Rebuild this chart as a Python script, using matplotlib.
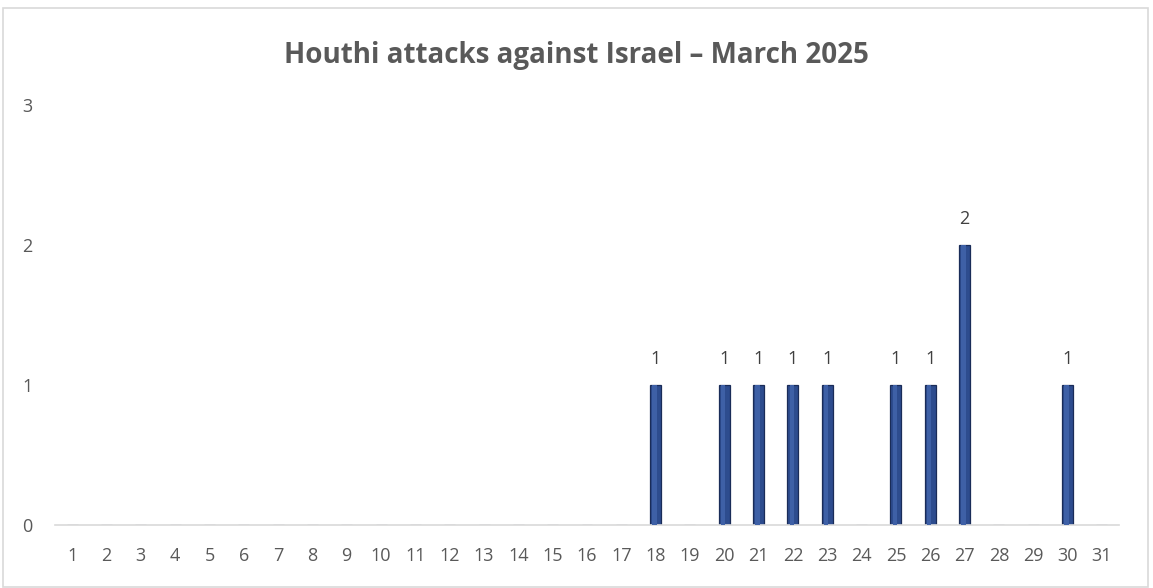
import matplotlib
matplotlib.use("Agg")
import matplotlib.pyplot as plt
from matplotlib.patches import Rectangle
import numpy as np

days = list(range(1, 32))
attacks = [0]*17 + [1, 0, 1, 1, 1, 1, 0, 1, 1, 2, 0, 0, 1, 0]
title = "Houthi attacks against Israel \u2013 March 2025"
yticks = [0, 1, 2, 3]

plt.rcParams['font.family'] = ['Open Sans', 'DejaVu Sans']
txt = '#595959'

fig = plt.figure(figsize=(11.53, 5.88), dpi=100)
fig.patches.append(Rectangle((3/1153, 1-587/588), 1145/1153, 579/588,
                             transform=fig.transFigure, fill=False,
                             edgecolor='#D9D9D9', linewidth=1.2))
ax = fig.add_axes([55/1153, 1-525/588, 1064/1153, 420/588])

x = np.arange(len(days))
bw = 0.32
ax.bar(x, attacks, width=bw, color='#2D4C8E', edgecolor='#1A2C58', linewidth=0.9, zorder=2)
ax.bar(x - bw*0.1, attacks, width=bw*0.4, color='#3E60A6', linewidth=0, zorder=3)

for xi, v in zip(x, attacks):
    if v > 0:
        ax.text(xi, v + 0.12, str(v), ha='center', va='bottom', fontsize=13, color='#404040')

ax.set_xlim(-0.5, len(days) - 0.5)
ax.set_ylim(0, 3)
ax.set_xticks(x)
ax.set_xticklabels([str(d) for d in days], fontsize=13, color=txt)
ax.set_yticks(yticks)
ax.set_yticklabels([str(t) for t in yticks], fontsize=13, color=txt)
ax.tick_params(axis='both', length=0)
ax.tick_params(axis='x', pad=16)
ax.tick_params(axis='y', pad=16)
for s in ['top', 'right', 'left']:
    ax.spines[s].set_visible(False)
ax.spines['bottom'].set_color('#D9D9D9')
ax.spines['bottom'].set_linewidth(1.2)

fig.text(0.5, 1-55/588, title, ha='center', va='center', fontsize=20,
         fontweight='bold', color=txt)

fig.savefig('out.png', dpi=100)
